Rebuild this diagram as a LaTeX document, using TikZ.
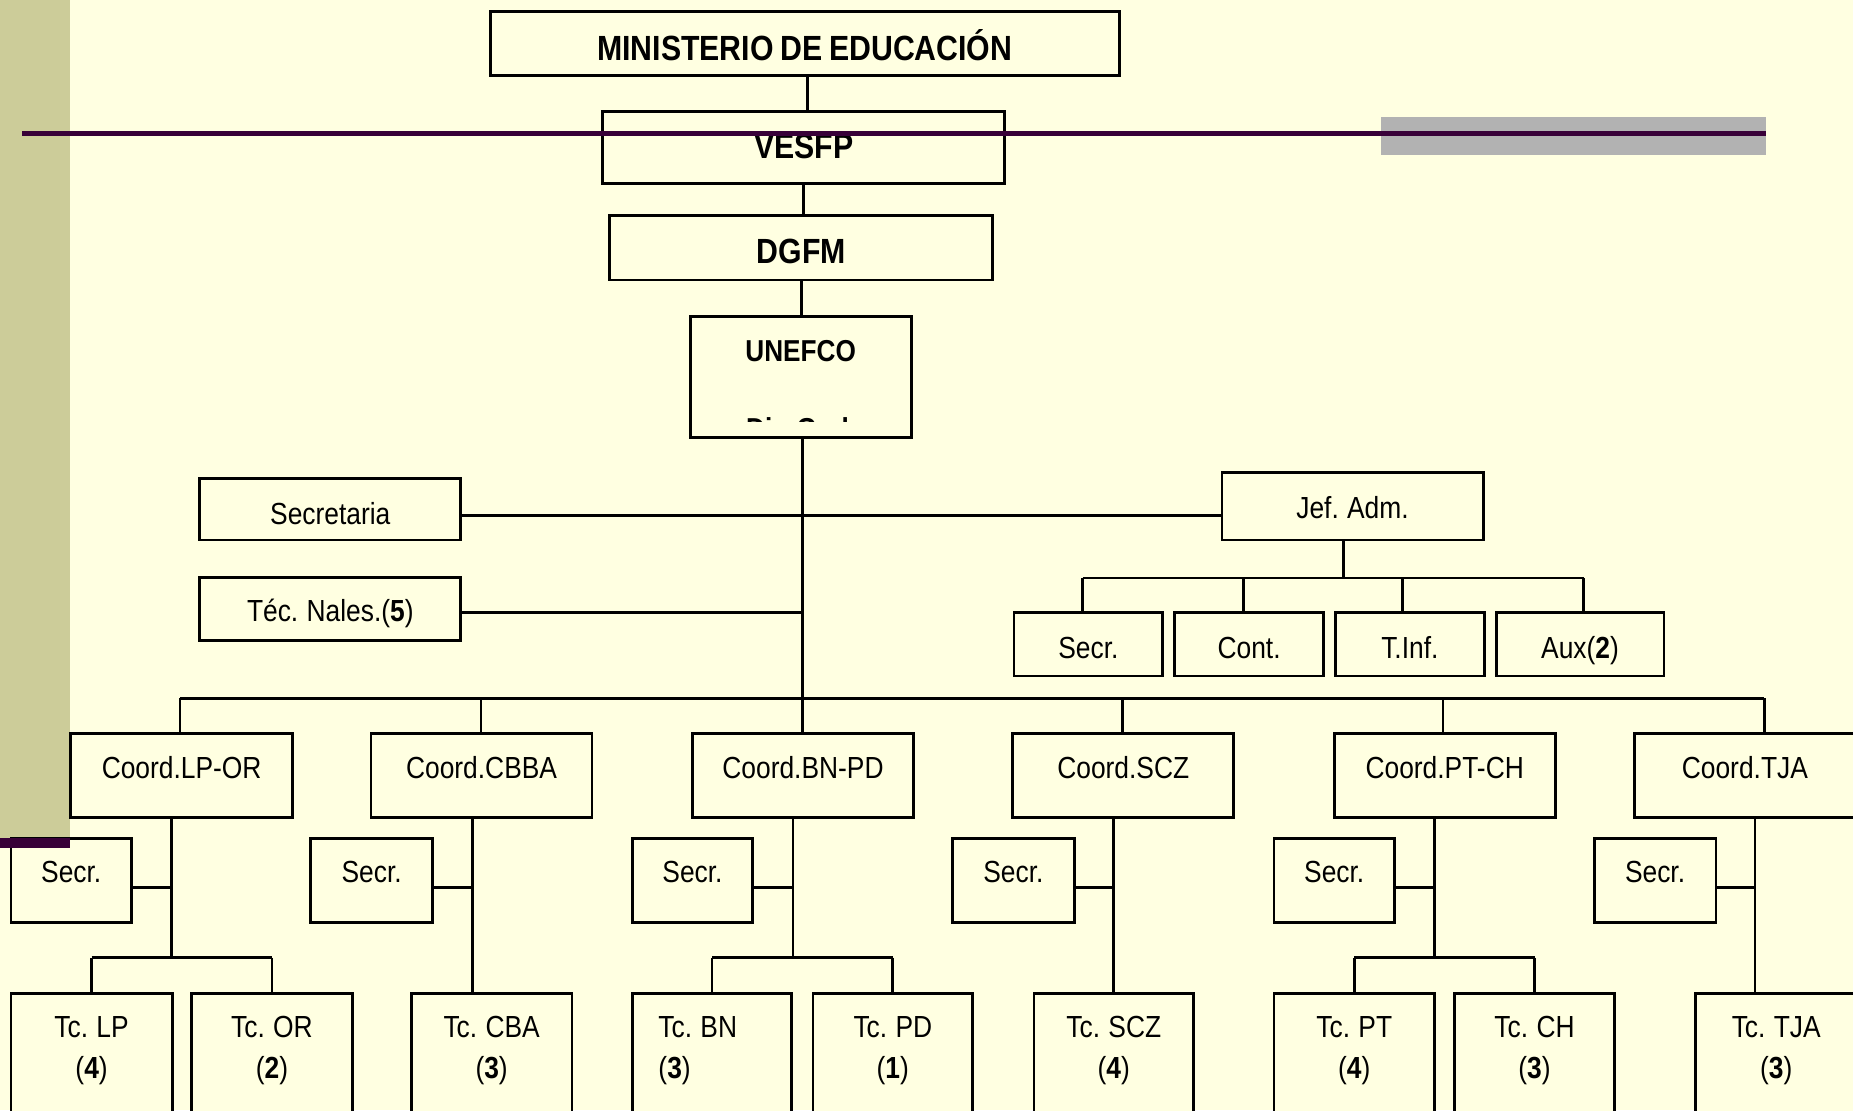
\documentclass[tikz,border=0pt]{standalone}
\usepackage{fontspec}
\setmainfont{Liberation Sans}[FakeStretch=0.865, WordSpace=0.8]
\definecolor{bgc}{HTML}{FFFFE1}
\definecolor{khaki}{HTML}{CCCC99}
\definecolor{purp}{HTML}{380038}
\definecolor{grayr}{HTML}{B2B2B2}
\newcommand\bx[5]{\node[box, minimum width={#4-#2}, minimum height={#5-#3}] (#1) at ({(#2+#4)/2},{(#3+#5)/2}) {};}
\tikzset{
  box/.style={draw=black, line width=2.4pt, fill=bgc, inner sep=0pt, outer sep=0pt},
  conn/.style={draw=black, line width=2.3pt},
  txt/.style={anchor=base, inner sep=0pt, font=\fontsize{25.8}{30}\selectfont},
  ttl/.style={anchor=base, inner sep=0pt, font=\bfseries\fontsize{29.6}{34}\selectfont},
  ttls/.style={anchor=base, inner sep=0pt, font=\bfseries\fontsize{25.6}{30}\selectfont}
}
\begin{document}
\begin{tikzpicture}[x=1pt,y=-1pt]
\useasboundingbox (0,0) rectangle (1568,939.3);
\clip (0,0) rectangle (1568,939.3);
\fill[bgc] (0,0) rectangle (1568,939.3);
\fill[khaki] (0,0) rectangle (59.2,709.4);
\fill[grayr] (1169,99) rectangle (1494.4,131.5);

% boxes
\bx{min}{415}{10}{947}{64}
\bx{ves}{510}{94}{850}{155}
\bx{dgfm}{516}{182}{840}{237}
\bx{unef}{584}{268}{771}{370}
\bx{secre}{169}{405}{390}{457}
\bx{tecn}{169}{489}{390}{542}
\bx{jefa}{1034}{400}{1255}{457}
\bx{jsec}{858}{518}{984}{572}
\bx{jcon}{994}{518}{1120}{572}
\bx{jtin}{1130}{518}{1256}{572}
\bx{jaux}{1266}{518}{1408}{572}
\bx{c1}{60}{620.5}{247.4}{691.6}
\bx{c2}{314}{620.5}{501}{691.6}
\bx{c3}{586}{620.5}{773}{691.6}
\bx{c4}{857}{620.5}{1044}{691.6}
\bx{c5}{1129}{620.5}{1316}{691.6}
\bx{c6}{1383}{620.5}{1570}{691.6}
\bx{s1}{9.3}{709.4}{111.4}{780.7}
\bx{s2}{263}{709.4}{366}{780.7}
\bx{s3}{535}{709.4}{637}{780.7}
\bx{s4}{806}{709.4}{909}{780.7}
\bx{s5}{1078}{709.4}{1180}{780.7}
\bx{s6}{1349}{709.4}{1452}{780.7}
\bx{t1}{9.3}{840.5}{145.8}{960}
\bx{t2}{162.2}{840.5}{298.1}{960}
\bx{t3}{348}{840.5}{484}{960}
\bx{t4}{535}{840.5}{670}{960}
\bx{t5}{688}{840.5}{823}{960}
\bx{t6}{875}{840.5}{1010}{960}
\bx{t7}{1078}{840.5}{1214}{960}
\bx{t8}{1231}{840.5}{1366}{960}
\bx{t9}{1435}{840.5}{1571}{960}

% coordinates
\coordinate (mx) at (679,591);
\coordinate (hy) at (0,436);
\coordinate (ty) at (0,518);
\coordinate (jx) at (1137,489);
\coordinate (jb1) at (916,489);
\coordinate (jb2) at (1052,489);
\coordinate (jb3) at (1187,489);
\coordinate (jb4) at (1340,489);
\coordinate (d1) at (152.3,591);
\coordinate (d2) at (407,591);
\coordinate (d4) at (950,591);
\coordinate (d5) at (1221,591);
\coordinate (d6) at (1493,591);
\coordinate (sy) at (0,751);
\coordinate (by) at (0,810.3);
\coordinate (x1) at (145.3,0);
\coordinate (x2) at (400,0);
\coordinate (x3) at (671,0);
\coordinate (x4) at (942,0);
\coordinate (x5) at (1214,0);
\coordinate (x6) at (1485,0);

% connectors
\draw[conn] ([xshift=2pt]min.south) -- ([xshift=2pt]min.south |- ves.north);
\draw[conn] (ves.south) -- (ves.south |- dgfm.north);
\draw[conn] (dgfm.south) -- (dgfm.south |- unef.north);
\draw[conn] (unef.south -| mx) -- (mx |- c3.north);
\draw[conn, line width=2.7pt] (secre.east |- hy) -- (jefa.west |- hy);
\draw[conn] (tecn.east |- ty) -- (mx |- ty);
\draw[conn] (jefa.south -| jx) -- (jx);
\draw[conn] (jb1) -- (jb4);
\draw[conn] (jb1) -- (jb1 |- jsec.north);
\draw[conn] (jb2) -- (jb2 |- jcon.north);
\draw[conn] (jb3) -- (jb3 |- jtin.north);
\draw[conn] (jb4) -- (jb4 |- jaux.north);
\draw[conn] (d1) -- (d6);
\draw[conn] (d1) -- (d1 |- c1.north);
\draw[conn] (d2) -- (d2 |- c2.north);
\draw[conn] (d4) -- (d4 |- c4.north);
\draw[conn] (d5) -- (d5 |- c5.north);
\draw[conn] (d6) -- (d6 |- c6.north);
% coordination subtrees
\draw[conn] (c1.south -| x1) -- (x1 |- by);
\draw[conn] (s1.east |- sy) -- (x1 |- sy);
\draw[conn] (t1.north |- by) -- (t2.north |- by);
\draw[conn] (t1.north |- by) -- (t1.north);
\draw[conn] (t2.north |- by) -- (t2.north);
\draw[conn] (c2.south -| x2) -- (x2 |- t3.north);
\draw[conn] (s2.east |- sy) -- (x2 |- sy);
\draw[conn] (c3.south -| x3) -- (x3 |- by);
\draw[conn] (s3.east |- sy) -- (x3 |- sy);
\draw[conn] (t4.north |- by) -- (t5.north |- by);
\draw[conn] (t4.north |- by) -- (t4.north);
\draw[conn] (t5.north |- by) -- (t5.north);
\draw[conn] (c4.south -| x4) -- (x4 |- t6.north);
\draw[conn] (s4.east |- sy) -- (x4 |- sy);
\draw[conn] (c5.south -| x5) -- (x5 |- by);
\draw[conn] (s5.east |- sy) -- (x5 |- sy);
\draw[conn] (t7.north |- by) -- (t8.north |- by);
\draw[conn] (t7.north |- by) -- (t7.north);
\draw[conn] (t8.north |- by) -- (t8.north);
\draw[conn] (c6.south -| x6) -- (x6 |- t9.north);
\draw[conn] (s6.east |- sy) -- (x6 |- sy);

% texts
\node[ttl] (lmin) at (681,50.8) {MINISTERIO DE EDUCACIÓN};
\node[ttl] (lves) at (680,134) {VESFP};
\node[ttl] (ldgfm) at (678,222.8) {DGFM};
\node[ttls] (lunef) at (677.5,306) {UNEFCO};
\begin{scope}
\clip (586,270) rectangle (769,356.3);
\node[ttls] (ldir) at (678,372) {Dir. Gral.};
\end{scope}
\node[txt] (lsecre) at (279.5,443.5) {Secretaria};
\node[txt] (ltecn) at (279.5,526) {Téc. Nales.(\textbf{5})};
\node[txt] (ljefa) at (1144.5,438.6) {Jef. Adm.};
\node[txt] (ljsec) at (921,557) {Secr.};
\node[txt] (ljcon) at (1057,557) {Cont.};
\node[txt] (ljtin) at (1193,557) {T.Inf.};
\node[txt] (ljaux) at (1337,557) {Aux(\textbf{2})};
\node[txt] (lc1) at (153.7,658.6) {Coord.LP-OR};
\node[txt] (lc2) at (407.5,658.6) {Coord.CBBA};
\node[txt] (lc3) at (679.5,658.6) {Coord.BN-PD};
\node[txt] (lc4) at (950.5,658.6) {Coord.SCZ};
\node[txt] (lc5) at (1222.5,658.6) {Coord.PT-CH};
\node[txt] (lc6) at (1476.5,658.6) {Coord.TJA};
\foreach \n/\x in {s1/60.3, s2/314.5, s3/586, s4/857.5, s5/1129, s6/1400.5}
  \node[txt] (l\n) at (\x,747) {Secr.};
\node[txt] (lt1a) at (77.5,878.3) {Tc. LP};
\node[txt] (lt1b) at (77.5,912.5) {(\textbf{4})};
\node[txt] (lt2a) at (230.1,878.3) {Tc. OR};
\node[txt] (lt2b) at (230.1,912.5) {(\textbf{2})};
\node[txt] (lt3a) at (416,878.3) {Tc. CBA};
\node[txt] (lt3b) at (416,912.5) {(\textbf{3})};
\node[txt, anchor=base west] (lt4a) at (557,878.3) {Tc. BN};
\node[txt, anchor=base west] (lt4b) at (557,912.5) {(\textbf{3})};
\node[txt] (lt5a) at (755.5,878.3) {Tc. PD};
\node[txt] (lt5b) at (755.5,912.5) {(\textbf{1})};
\node[txt] (lt6a) at (942.5,878.3) {Tc. SCZ};
\node[txt] (lt6b) at (942.5,912.5) {(\textbf{4})};
\node[txt] (lt7a) at (1146,878.3) {Tc. PT};
\node[txt] (lt7b) at (1146,912.5) {(\textbf{4})};
\node[txt] (lt8a) at (1298.5,878.3) {Tc. CH};
\node[txt] (lt8b) at (1298.5,912.5) {(\textbf{3})};
\node[txt] (lt9a) at (1503,878.3) {Tc. TJA};
\node[txt] (lt9b) at (1503,912.5) {(\textbf{3})};

% decorations on top
\fill[purp] (0,709.4) rectangle (59.2,717.6);
\draw[purp, line width=3.8pt] (19,112.8) -- (1494.4,112.8);
\end{tikzpicture}
\end{document}
